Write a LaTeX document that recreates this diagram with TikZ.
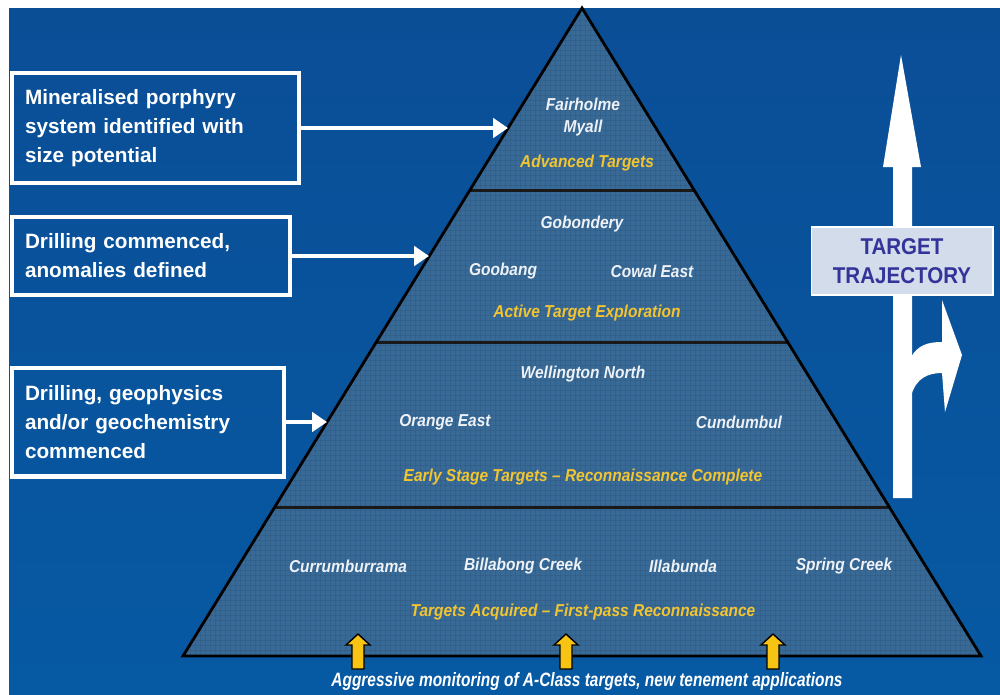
\documentclass[tikz,border=0pt]{standalone}
\usepackage{fontspec}
\setmainfont{Liberation Sans}
\newfontfamily\tagfont[FakeStretch=0.9]{Liberation Sans}
\newfontfamily\notefont[FakeStretch=0.8]{Liberation Sans}
\usepackage{tikz}
\usetikzlibrary{arrows.meta}

\definecolor{bgtop}{HTML}{0A4E96}
\definecolor{bgbottom}{HTML}{0659A3}
\definecolor{tier}{HTML}{386A98}
\definecolor{tagyellow}{HTML}{F2C530}
\definecolor{sitewhite}{HTML}{EEF2F7}
\definecolor{panel}{HTML}{D3DCEA}
\definecolor{panelink}{HTML}{33339A}
\definecolor{feed}{HTML}{F7C414}

\tikzset{
  stagebox/.style={draw=white, line width=2.3pt, anchor=west, inner xsep=0.26cm,
    align=left, text=white, font=\fontsize{11.8}{16.5}\selectfont\bfseries},
  sitelabel/.style={text=sitewhite, font=\tagfont\bfseries\itshape\fontsize{9.8}{12}\selectfont},
  tierlabel/.style={text=tagyellow, font=\tagfont\bfseries\itshape\fontsize{9.8}{12}\selectfont},
  pointer/.style={draw=white, line width=2.3pt, -{Triangle[length=8.5pt,width=11pt]}},
  divider/.style={draw=black!90, line width=1.7pt},
  feedarrow/.style={fill=feed, draw=black, line width=0.8pt, line join=miter},
}

\begin{document}
\begin{tikzpicture}[x=0.02cm,y=-0.02cm]
  \useasboundingbox (0,0) rectangle (1000,694);
  \fill[white] (0,0) rectangle (1000,694);
  \shade[top color=bgtop, bottom color=bgbottom] (9,8) rectangle (1000,694);

  % pyramid
  \coordinate (apex) at (582,8);
  \coordinate (bl) at (183,656);
  \coordinate (br) at (981,656);
  \fill[tier] (apex) -- (bl) -- (br) -- cycle;
  \begin{scope}
    \clip (apex) -- (bl) -- (br) -- cycle;
    \foreach \g in {180,185,...,985}
      \draw[black, opacity=0.07, line width=0.25pt] (\g,0) -- (\g,660);
    \foreach \g in {10,15,...,660}
      \draw[black, opacity=0.07, line width=0.25pt] (180,\g) -- (985,\g);
  \end{scope}
  \draw[divider] (470,190) -- (694,190);
  \draw[divider] (376,342) -- (788,342);
  \draw[divider] (275,507) -- (889,507);
  \draw[black, line width=1.6pt, line join=miter] (apex) -- (bl) -- (br) -- cycle;

  % targets per tier
  \node[sitelabel] (fair) at (583,104) {Fairholme};
  \node[sitelabel] (myall) at (583,128) {Myall};
  \node[tierlabel] (adv) at (587,163) {Advanced Targets};

  \node[sitelabel] (gob) at (582,224) {Gobondery};
  \node[sitelabel] (goo) at (503,271) {Goobang};
  \node[sitelabel] (cow) at (652,271) {Cowal East};
  \node[tierlabel] (act) at (587,313) {Active Target Exploration};

  \node[sitelabel] (well) at (583,374) {Wellington North};
  \node[sitelabel] (ora) at (445,422) {Orange East};
  \node[sitelabel] (cun) at (739,422) {Cundumbul};
  \node[tierlabel] (early) at (583,477) {Early Stage Targets – Reconnaissance Complete};

  \node[sitelabel] (cur) at (348,566) {Currumburrama};
  \node[sitelabel] (bil) at (523,566) {Billabong Creek};
  \node[sitelabel] (ill) at (683,566) {Illabunda};
  \node[sitelabel] (spr) at (844,566) {Spring Creek};
  \node[tierlabel] (acq) at (583,612) {Targets Acquired – First-pass Reconnaissance};

  % feed from below
  \foreach \x in {358,566,773}
    \draw[feedarrow] (\x-6,669) -- (\x-6,645) -- (\x-12,645) -- (\x,634)
      -- (\x+12,645) -- (\x+6,645) -- (\x+6,669) -- cycle;
  \node[text=white, font=\notefont\bfseries\itshape\fontsize{11}{13}\selectfont] (mon) at (587,681)
    {Aggressive monitoring of A-Class targets, new tenement applications};

  % stage boxes on the left
  \node[stagebox, minimum width=5.74cm, minimum height=2.2cm, text width=5.22cm] (box1) at (10,128)
    {Mineralised porphyry\\system identified with\\size potential};
  \node[stagebox, minimum width=5.56cm, minimum height=1.56cm, text width=5.04cm] (box2) at (10,256)
    {Drilling commenced,\\anomalies defined};
  \node[stagebox, minimum width=5.44cm, minimum height=2.18cm, text width=4.92cm] (box3) at (10,422)
    {Drilling, geophysics\\and/or geochemistry\\commenced};
  \coordinate (tip1) at (508,128);
  \coordinate (tip2) at (429,256);
  \coordinate (tip3) at (327,422);
  \draw[pointer] (box1.east) -- (tip1);
  \draw[pointer] (box2.east) -- (tip2);
  \draw[pointer] (box3.east) -- (tip3);

  % trajectory arrow
  \fill[white] (893,498) -- (893,167) -- (883,167) -- (901,55) -- (921,167)
    -- (912,167) -- (912,498) -- cycle;
  \fill[white] (911,357) .. controls (918,345) and (928,342) .. (942,342)
    -- (942,300) -- (962,355) -- (945,412) -- (942,373)
    .. controls (928,373) and (916,378) .. (911,396) -- cycle;
  \node[fill=panel, draw=white, line width=0.6pt, minimum width=3.64cm, minimum height=1.36cm,
    align=center, text=panelink, font=\tagfont\bfseries\fontsize{13}{16.4}\selectfont] (traj) at (902,261)
    {TARGET\\TRAJECTORY};
\end{tikzpicture}
\end{document}
